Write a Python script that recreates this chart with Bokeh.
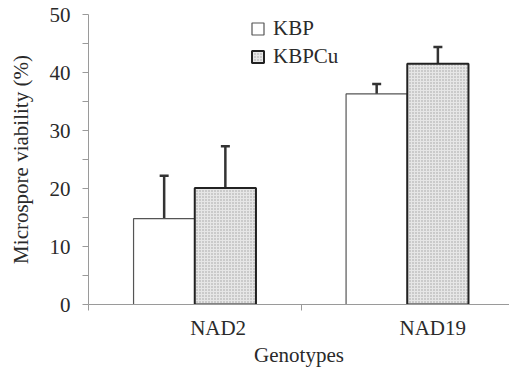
from bokeh.plotting import figure
from bokeh.models import (ColumnDataSource, FixedTicker, Range1d, Whisker, TeeHead,
                          Legend, LegendItem)
from bokeh.embed import file_html
from bokeh.resources import INLINE

# ---- data ----
genotypes = ["NAD2", "NAD19"]
kbp = [14.8, 36.3]
kbp_err = [7.4, 1.7]
kbpcu = [20.1, 41.5]
kbpcu_err = [7.2, 2.9]
y_ticks = [0, 10, 20, 30, 40, 50]
y_minor = [5, 15, 25, 35, 45]
series_names = ["KBP", "KBPCu"]

FONT = "Liberation Serif"
TXT = "#2a2a2a"
AX = "#9a9a9a"

p = figure(width=509, height=369, output_backend="svg", toolbar_location=None,
           x_range=Range1d(0, 1.981), y_range=Range1d(0, 50),
           min_border_left=88, min_border_right=0, min_border_top=14,
           min_border_bottom=62)
p.outline_line_color = None
p.grid.visible = False
p.background_fill_color = "white"

centers = [0.5, 1.5]
label_pos = [0.61, 1.62]
x_kbp = [c - 0.144 for c in centers]
x_cu = [c + 0.144 for c in centers]

src1 = ColumnDataSource(dict(x=x_kbp, top=kbp, up=[a + b for a, b in zip(kbp, kbp_err)]))
src2 = ColumnDataSource(dict(x=x_cu, top=kbpcu, up=[a + b for a, b in zip(kbpcu, kbpcu_err)]))

r1 = p.vbar(x="x", top="top", width=0.288, source=src1, fill_color="white",
            line_color="#555555", line_width=1.2)
r2 = p.vbar(x="x", top="top", width=0.288, source=src2, fill_color="#e6e6e6",
            hatch_pattern="dot", hatch_color="#a0a0a0", hatch_scale=3, hatch_weight=1,
            line_color="#222222", line_width=2)

for src in (src1, src2):
    w = Whisker(source=src, base="x", upper="up", lower="top", dimension="height",
                line_color="#333333", line_width=2.5,
                upper_head=TeeHead(size=9, line_color="#333333", line_width=2.5),
                lower_head=None)
    p.add_layout(w)

legend = Legend(items=[LegendItem(label=series_names[0], renderers=[r1]),
                       LegendItem(label=series_names[1], renderers=[r2])],
                location=(162, 235), border_line_color=None, background_fill_alpha=0,
                padding=0, margin=0, spacing=3, glyph_width=15, glyph_height=15,
                label_text_font=FONT, label_text_font_size="21px", label_text_color=TXT,
                label_standoff=8, label_height=20)
p.add_layout(legend)

# x axis
xa = p.xaxis[0]
xa.ticker = FixedTicker(ticks=label_pos, minor_ticks=[0, 1])
xa.major_label_overrides = {label_pos[i]: genotypes[i] for i in range(len(genotypes))}
xa.major_tick_out = 0
xa.major_tick_in = 0
xa.minor_tick_out = 6
xa.minor_tick_in = 0
xa.minor_tick_line_color = AX
xa.axis_line_color = AX
xa.major_label_text_font = FONT
xa.major_label_text_font_size = "21px"
xa.major_label_text_color = TXT
xa.major_label_standoff = 5
xa.axis_label = "Genotypes"
xa.axis_label_text_font = FONT
xa.axis_label_text_font_size = "21px"
xa.axis_label_text_font_style = "normal"
xa.axis_label_text_color = TXT
xa.axis_label_standoff = 0

# y axis
ya = p.yaxis[0]
ya.ticker = FixedTicker(ticks=y_ticks, minor_ticks=y_minor)
ya.major_tick_out = 6
ya.major_tick_in = 0
ya.minor_tick_out = 6
ya.minor_tick_in = 0
ya.major_tick_line_color = AX
ya.minor_tick_line_color = AX
ya.axis_line_color = AX
ya.major_label_text_font = FONT
ya.major_label_text_font_size = "21px"
ya.major_label_text_color = TXT
ya.major_label_standoff = 12
ya.axis_label = "Microspore viability (%)"
ya.axis_label_text_font = FONT
ya.axis_label_text_font_size = "21px"
ya.axis_label_text_font_style = "normal"
ya.axis_label_text_color = TXT
ya.axis_label_standoff = 14

open("out.html", "w").write(file_html(p, INLINE))
